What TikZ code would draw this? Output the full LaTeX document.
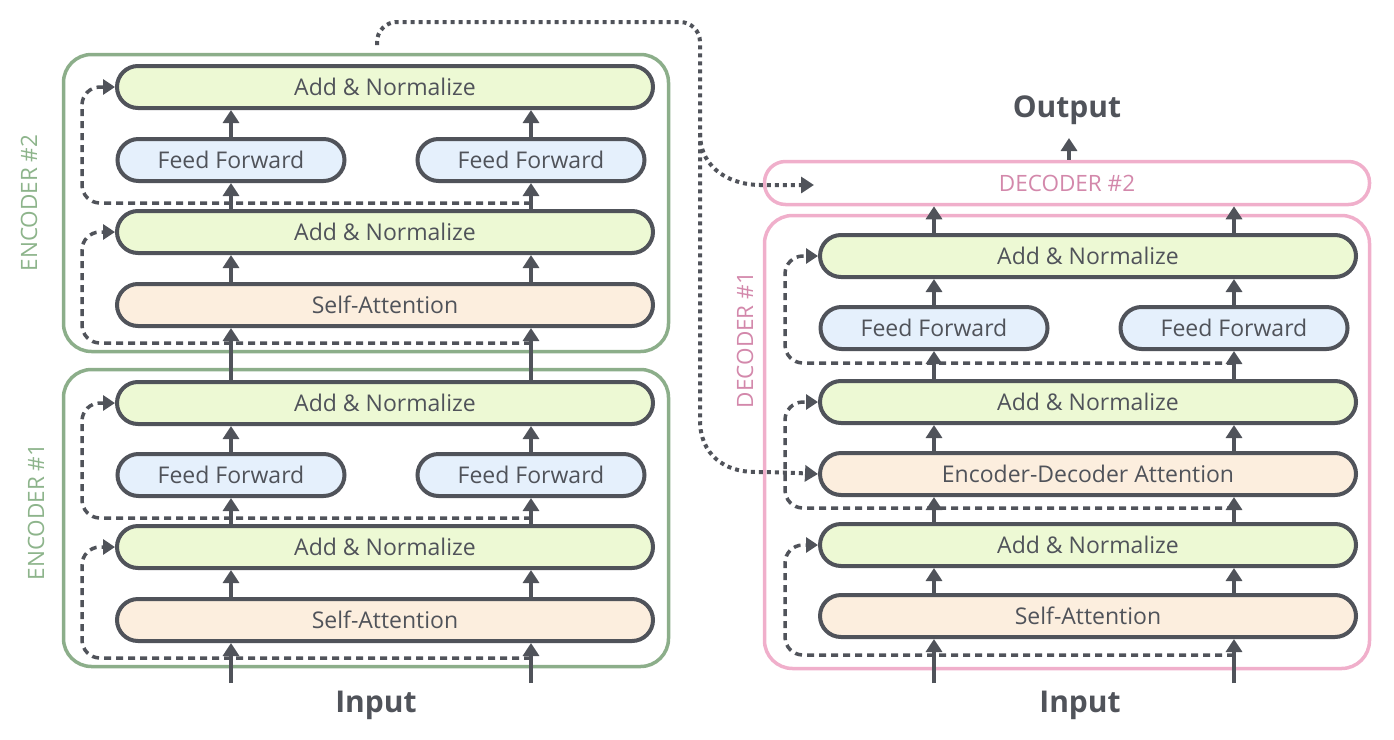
\documentclass[tikz,border=0pt]{standalone}
\usepackage{fontspec}
\setmainfont{Open Sans}
\usetikzlibrary{arrows.meta}
\definecolor{dk}{HTML}{50535A}
\definecolor{grn}{HTML}{EDF9D4}
\definecolor{blu}{HTML}{E5F0FC}
\definecolor{pch}{HTML}{FCEEDE}
\definecolor{encg}{HTML}{8CAE8A}
\definecolor{enct}{HTML}{8DB48B}
\definecolor{decp}{HTML}{F0AFCB}
\definecolor{dect}{HTML}{D388AB}
\begin{document}
\begin{tikzpicture}[x=1pt,y=-1pt,
  pill/.style={draw=dk, line width=4pt, rounded corners=21pt, minimum height=42pt, inner sep=0pt, text=dk, font=\fontsize{23}{27}\selectfont},
  an/.style={pill, fill=grn, minimum width=536pt},
  ffb/.style={pill, fill=blu, minimum width=227pt},
  sa/.style={pill, fill=pch, minimum width=536pt},
  flow/.style={draw=dk, line width=4pt, -{Triangle[length=13pt,width=16pt]}},
  res/.style={draw=dk, line width=3.5pt, dash pattern=on 7pt off 5pt, rounded corners=18pt, -{Triangle[length=12pt,width=15pt]}},
  xatt/.style={draw=dk, line width=4pt, dash pattern=on 4pt off 4pt, rounded corners=20pt, -{Triangle[length=13pt,width=16pt]}},
  encbox/.style={draw=encg, line width=3.5pt, rounded corners=28pt, minimum width=605pt},
  decbox/.style={draw=decp, line width=3.5pt, rounded corners=28pt, minimum width=605pt},
  lbl/.style={rotate=90, font=\fontsize{22.5}{26}\selectfont},
  big/.style={text=dk, font=\bfseries\fontsize{30}{35}\selectfont}
]
\useasboundingbox (0,0) rectangle (1394,739);

% containers
\node[encbox, minimum height=297pt] (enc2) at (366,203) {};
\node[encbox, minimum height=297pt] (enc1) at (366,518) {};
\node[decbox, minimum height=453pt] (dec1) at (1067,442) {};
\node[decbox, rounded corners=21pt, minimum height=43pt, text=dect, font=\fontsize{22.5}{26}\selectfont] (dec2) at (1067,183) {DECODER \#2};

\node[lbl, text=enct] (l2) at (29,203) {ENCODER \#2};
\node[lbl, text=enct] (l1) at (36,512) {ENCODER \#1};
\node[lbl, text=dect] (dl) at (745,340) {DECODER \#1};

% encoder 2
\node[an] (e2an2) at (385,87) {Add \& Normalize};
\node[ffb] (e2ffa) at (231,160) {Feed Forward};
\node[ffb] (e2ffb) at (531,160) {Feed Forward};
\node[an] (e2an1) at (385,232) {Add \& Normalize};
\node[sa] (e2sa) at (385,305) {Self-Attention};
% encoder 1
\node[an] (e1an2) at (385,403) {Add \& Normalize};
\node[ffb] (e1ffa) at (231,475) {Feed Forward};
\node[ffb] (e1ffb) at (531,475) {Feed Forward};
\node[an] (e1an1) at (385,547) {Add \& Normalize};
\node[sa] (e1sa) at (385,620) {Self-Attention};
% decoder 1
\node[an] (dan3) at (1088,256) {Add \& Normalize};
\node[ffb] (dffa) at (934,328) {Feed Forward};
\node[ffb] (dffb) at (1234,328) {Feed Forward};
\node[an] (dan2) at (1088,402) {Add \& Normalize};
\node[sa] (eda) at (1088,474) {Encoder-Decoder Attention};
\node[an] (dan1) at (1088,545) {Add \& Normalize};
\node[sa] (dsa) at (1088,616) {Self-Attention};

% texts
\node[big] (inl) at (376,705) {Input};
\node[big] (inr) at (1080,705) {Input};
\node[big] (outt) at (1067,110) {Output};

% input coordinates
\coordinate (ia) at (231,683);
\coordinate (ib) at (531,683);
\coordinate (dia) at (934,683);
\coordinate (dib) at (1234,683);
\coordinate (dout) at (1069,138);

% flow arrows encoder
\foreach \c in {e1ffa,e1ffb}{
  \draw[flow] (\c |- e1an1.north) -- (\c.south);
  \draw[flow] (\c.north) -- (\c |- e1an2.south);
  \draw[flow] (\c |- e1sa.north) -- (\c |- e1an1.south);
}
\foreach \c in {e2ffa,e2ffb}{
  \draw[flow] (\c |- e2an1.north) -- (\c.south);
  \draw[flow] (\c.north) -- (\c |- e2an2.south);
  \draw[flow] (\c |- e2sa.north) -- (\c |- e2an1.south);
}
\draw[flow] (ia) -- (ia |- e1sa.south);
\draw[flow] (ib) -- (ib |- e1sa.south);
\draw[flow] (e1ffa |- e1an2.north) -- (e2ffa |- e2sa.south);
\draw[flow] (e1ffb |- e1an2.north) -- (e2ffb |- e2sa.south);

% flow arrows decoder
\foreach \c in {dffa,dffb}{
  \draw[flow] (\c |- dsa.north) -- (\c |- dan1.south);
  \draw[flow] (\c |- dan1.north) -- (\c |- eda.south);
  \draw[flow] (\c |- eda.north) -- (\c |- dan2.south);
  \draw[flow] (\c |- dan2.north) -- (\c.south);
  \draw[flow] (\c.north) -- (\c |- dan3.south);
  \draw[flow] (\c |- dan3.north) -- (\c |- dec2.south);
}
\draw[flow] (dia) -- (dia |- dsa.south);
\draw[flow] (dib) -- (dib |- dsa.south);
\draw[flow] (dout |- dec2.north) -- (dout);

% residual connections
\coordinate (r1) at (531,658);
\coordinate (r2) at (531,518);
\coordinate (r3) at (531,343);
\coordinate (r4) at (531,203);
\draw[res] (r1) -- (82,658) -- (82,547) -- (e1an1.west);
\draw[res] (r2) -- (82,518) -- (82,403) -- (e1an2.west);
\draw[res] (r3) -- (82,343) -- (82,232) -- (e2an1.west);
\draw[res] (r4) -- (82,203) -- (82,87) -- (e2an2.west);
\coordinate (d1) at (1234,655);
\coordinate (d2) at (1234,508);
\coordinate (d3) at (1234,363);
\draw[res] (d1) -- (785,655) -- (785,545) -- (dan1.west);
\draw[res] (d2) -- (785,508) -- (785,402) -- (dan2.west);
\draw[res] (d3) -- (785,363) -- (785,256) -- (dan3.west);

% encoder-decoder connections
\coordinate (xs) at (377,45);
\coordinate (xb) at (700,133);
\coordinate (d2in) at (814,185);
\draw[xatt] (xs) -- (377,22) -- (700,22) -- (700,400) .. controls (700,455) and (725,472) .. (775,472) -- (eda.west);
\draw[xatt] (xb) .. controls (700,172) and (735,185) .. (780,185) -- (d2in);
\end{tikzpicture}
\end{document}
